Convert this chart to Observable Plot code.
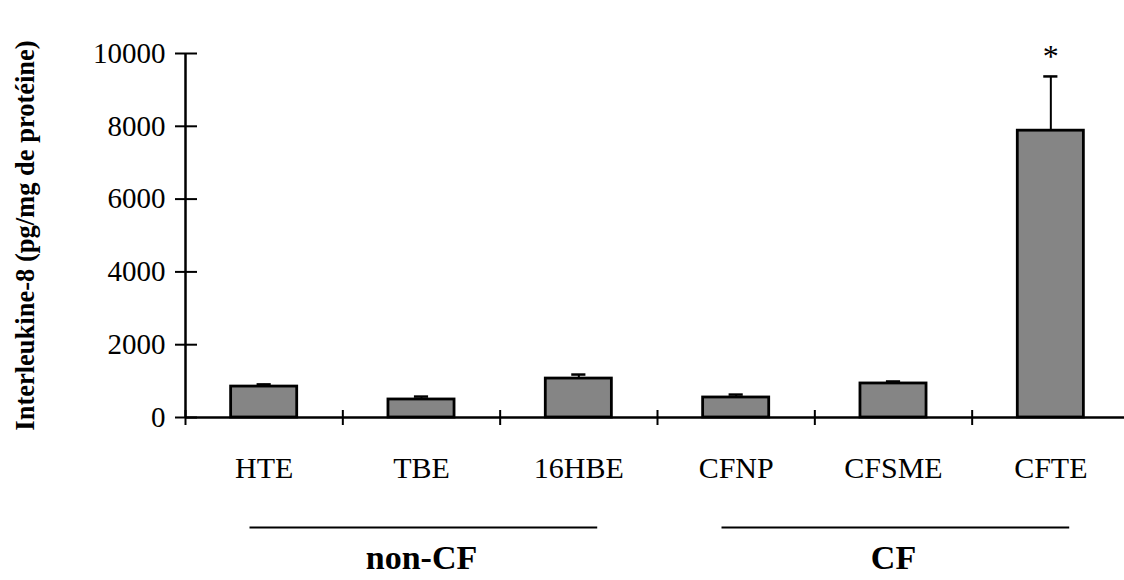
<!DOCTYPE html>
<html><head><meta charset="utf-8">
<script src="https://cdn.jsdelivr.net/npm/d3@7"></script>
<script src="https://cdn.jsdelivr.net/npm/@observablehq/plot@0.6"></script>
<style>body{margin:0;background:#fff}</style>
</head><body><div id="chart"></div>
<script>
const categories = ["HTE", "TBE", "16HBE", "CFNP", "CFSME", "CFTE"];
const means = [850, 495, 1070, 550, 935, 7880];
const errors = [60, 80, 110, 80, 55, 1490];
const significant = [false, false, false, false, false, true];
const yTicks = [0, 2000, 4000, 6000, 8000, 10000];
const groupNames = ["non-CF", "CF"];
const groupFirst = [0, 3];
const groupLast = [2, 5];
const yTitle = "Interleukine-8 (pg/mg de protéine)";

const rows = categories.map((c, i) => ({c, i, mean: means[i], err: errors[i], sig: significant[i]}));
const groups = groupNames.map((g, k) => ({g, a: groupFirst[k], b: groupLast[k]}));
const boundaries = d3.range(categories.length + 1);

const plot = Plot.plot({
  width: 1124, height: 580,
  marginLeft: 185, marginRight: 0, marginTop: 53, marginBottom: 163,
  x: {domain: [0, categories.length], range: [185, 1129]},
  y: {domain: [0, 10000]},
  style: {fontFamily: '"Liberation Serif", "Times New Roman", serif', background: "white", overflow: "hidden", color: "black"},
  marks: [
    Plot.rectY(rows, {x1: d => d.i + 0.29, x2: d => d.i + 0.71, y1: 0, y2: "mean", fill: "#858585", stroke: "black", strokeWidth: 2.8}),
    Plot.ruleX(rows, {x: d => d.i + 0.5, y1: "mean", y2: d => d.mean + d.err, stroke: "black", strokeWidth: 2}),
    Plot.ruleY(rows, {y: d => d.mean + d.err, x1: d => d.i + 0.455, x2: d => d.i + 0.545, stroke: "black", strokeWidth: 2.5}),
    Plot.text(rows.filter(d => d.sig), {x: d => d.i + 0.5, y: d => d.mean + d.err, text: () => "*", dy: -20, fontSize: 32}),
    Plot.ruleX([0], {y1: 0, y2: 10000, stroke: "black", strokeWidth: 2.5}),
    Plot.ruleY([0], {stroke: "black", strokeWidth: 2.5}),
    Plot.axisY({ticks: yTicks, tickSize: 22, dx: 12, strokeWidth: 2, tickFormat: () => "", label: null}),
    Plot.axisY({ticks: yTicks, tickSize: 0, tickPadding: 20, fontSize: 29, tickFormat: d => String(d), label: null}),
    Plot.axisX({ticks: boundaries, tickSize: 15, dy: -7, strokeWidth: 2, tickFormat: () => "", label: null}),
    Plot.text(rows, {x: d => d.i + 0.5, y: 0, text: "c", dy: 51, fontSize: 30}),
    Plot.ruleY(groups, {y: 0, x1: d => d.a + 0.41, x2: d => d.b + 1 - 0.38, dy: 110, stroke: "black", strokeWidth: 2}),
    Plot.text(groups, {x: d => (d.a + d.b + 1) / 2, y: 0, text: "g", dy: 141, fontSize: 34, fontWeight: "bold"}),
    Plot.text([yTitle], {frameAnchor: "left", rotate: -90, dx: -160, textAnchor: "middle", text: d => d, fontSize: 26.5, fontWeight: "bold"})
  ]
});
document.getElementById("chart").appendChild(plot);
</script>
</body></html>
